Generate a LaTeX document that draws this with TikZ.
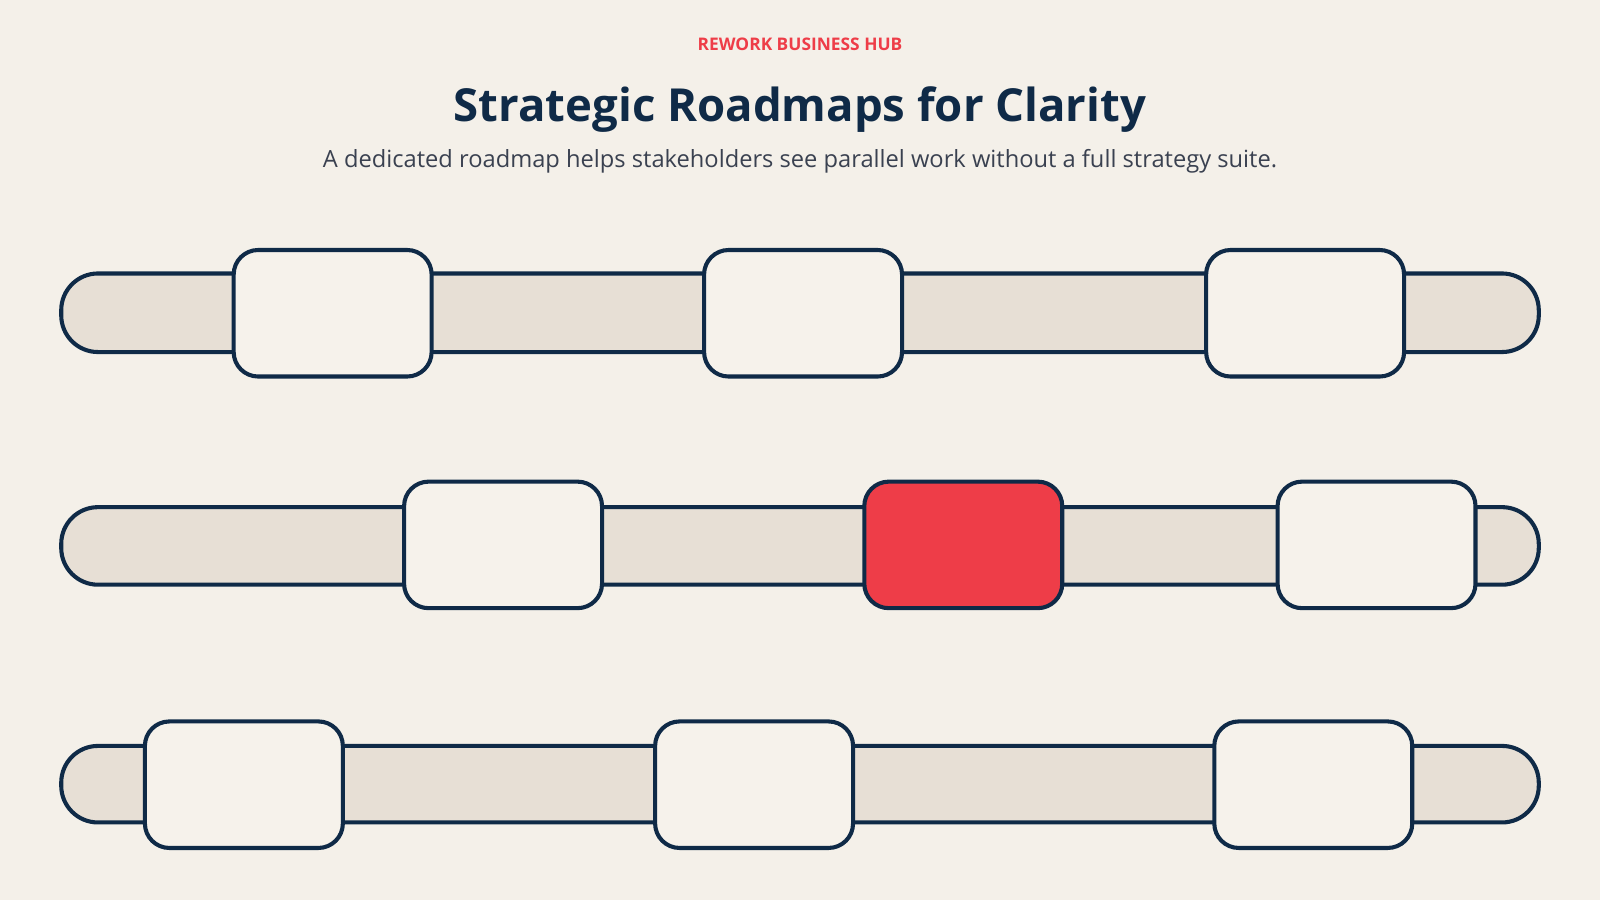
\documentclass[tikz,border=0pt]{standalone}
\usepackage{fontspec}
\setmainfont{Open Sans}
\usetikzlibrary{positioning}
\definecolor{bgcol}{HTML}{F4F0E9}
\definecolor{navy}{HTML}{0F2A47}
\definecolor{trackcol}{HTML}{E7DFD5}
\definecolor{boxcol}{HTML}{F6F2EB}
\definecolor{redcol}{HTML}{EE3D48}
\definecolor{subcol}{HTML}{3A4150}
\begin{document}
\begin{tikzpicture}[x=0.5pt,y=-0.5pt,
    track/.style={draw=navy,fill=trackcol,line width=2pt,rounded corners=18pt},
    stage/.style={draw=navy,fill=boxcol,line width=2pt,rounded corners=12pt,
      minimum width=97pt,minimum height=62pt,inner sep=0pt},
    hot/.style={stage,fill=redcol}
  ]
  \fill[bgcol] (0,0) rectangle (1568,882);
  \useasboundingbox (0,0) rectangle (1568,882);

  \node[text=redcol,font=\bfseries\fontsize{8.5}{10}\selectfont] (kicker) at (784,43) {REWORK BUSINESS HUB};
  \node[text=navy,font=\bfseries\fontsize{22.3}{27}\selectfont] (title) at (784,107) {Strategic Roadmaps for Clarity};
  \node[text=subcol,font=\fontsize{11.6}{14}\selectfont] (sub) at (784,158) {A dedicated roadmap helps stakeholders see parallel work without a full strategy suite.};

  % tracks
  \draw[track] (60,268) rectangle (1508,345);
  \draw[track] (60,497) rectangle (1508,573);
  \draw[track] (60,731) rectangle (1508,806);

  % row one
  \node[stage] (a1) at (326,307) {};
  \node[stage] (a2) at (787,307) {};
  \node[stage] (a3) at (1279,307) {};
  % row two
  \node[stage] (b1) at (493,534) {};
  \node[hot]   (b2) at (944,534) {};
  \node[stage] (b3) at (1349,534) {};
  % row three
  \node[stage] (c1) at (239,769) {};
  \node[stage] (c2) at (739,769) {};
  \node[stage] (c3) at (1287,769) {};
\end{tikzpicture}
\end{document}
